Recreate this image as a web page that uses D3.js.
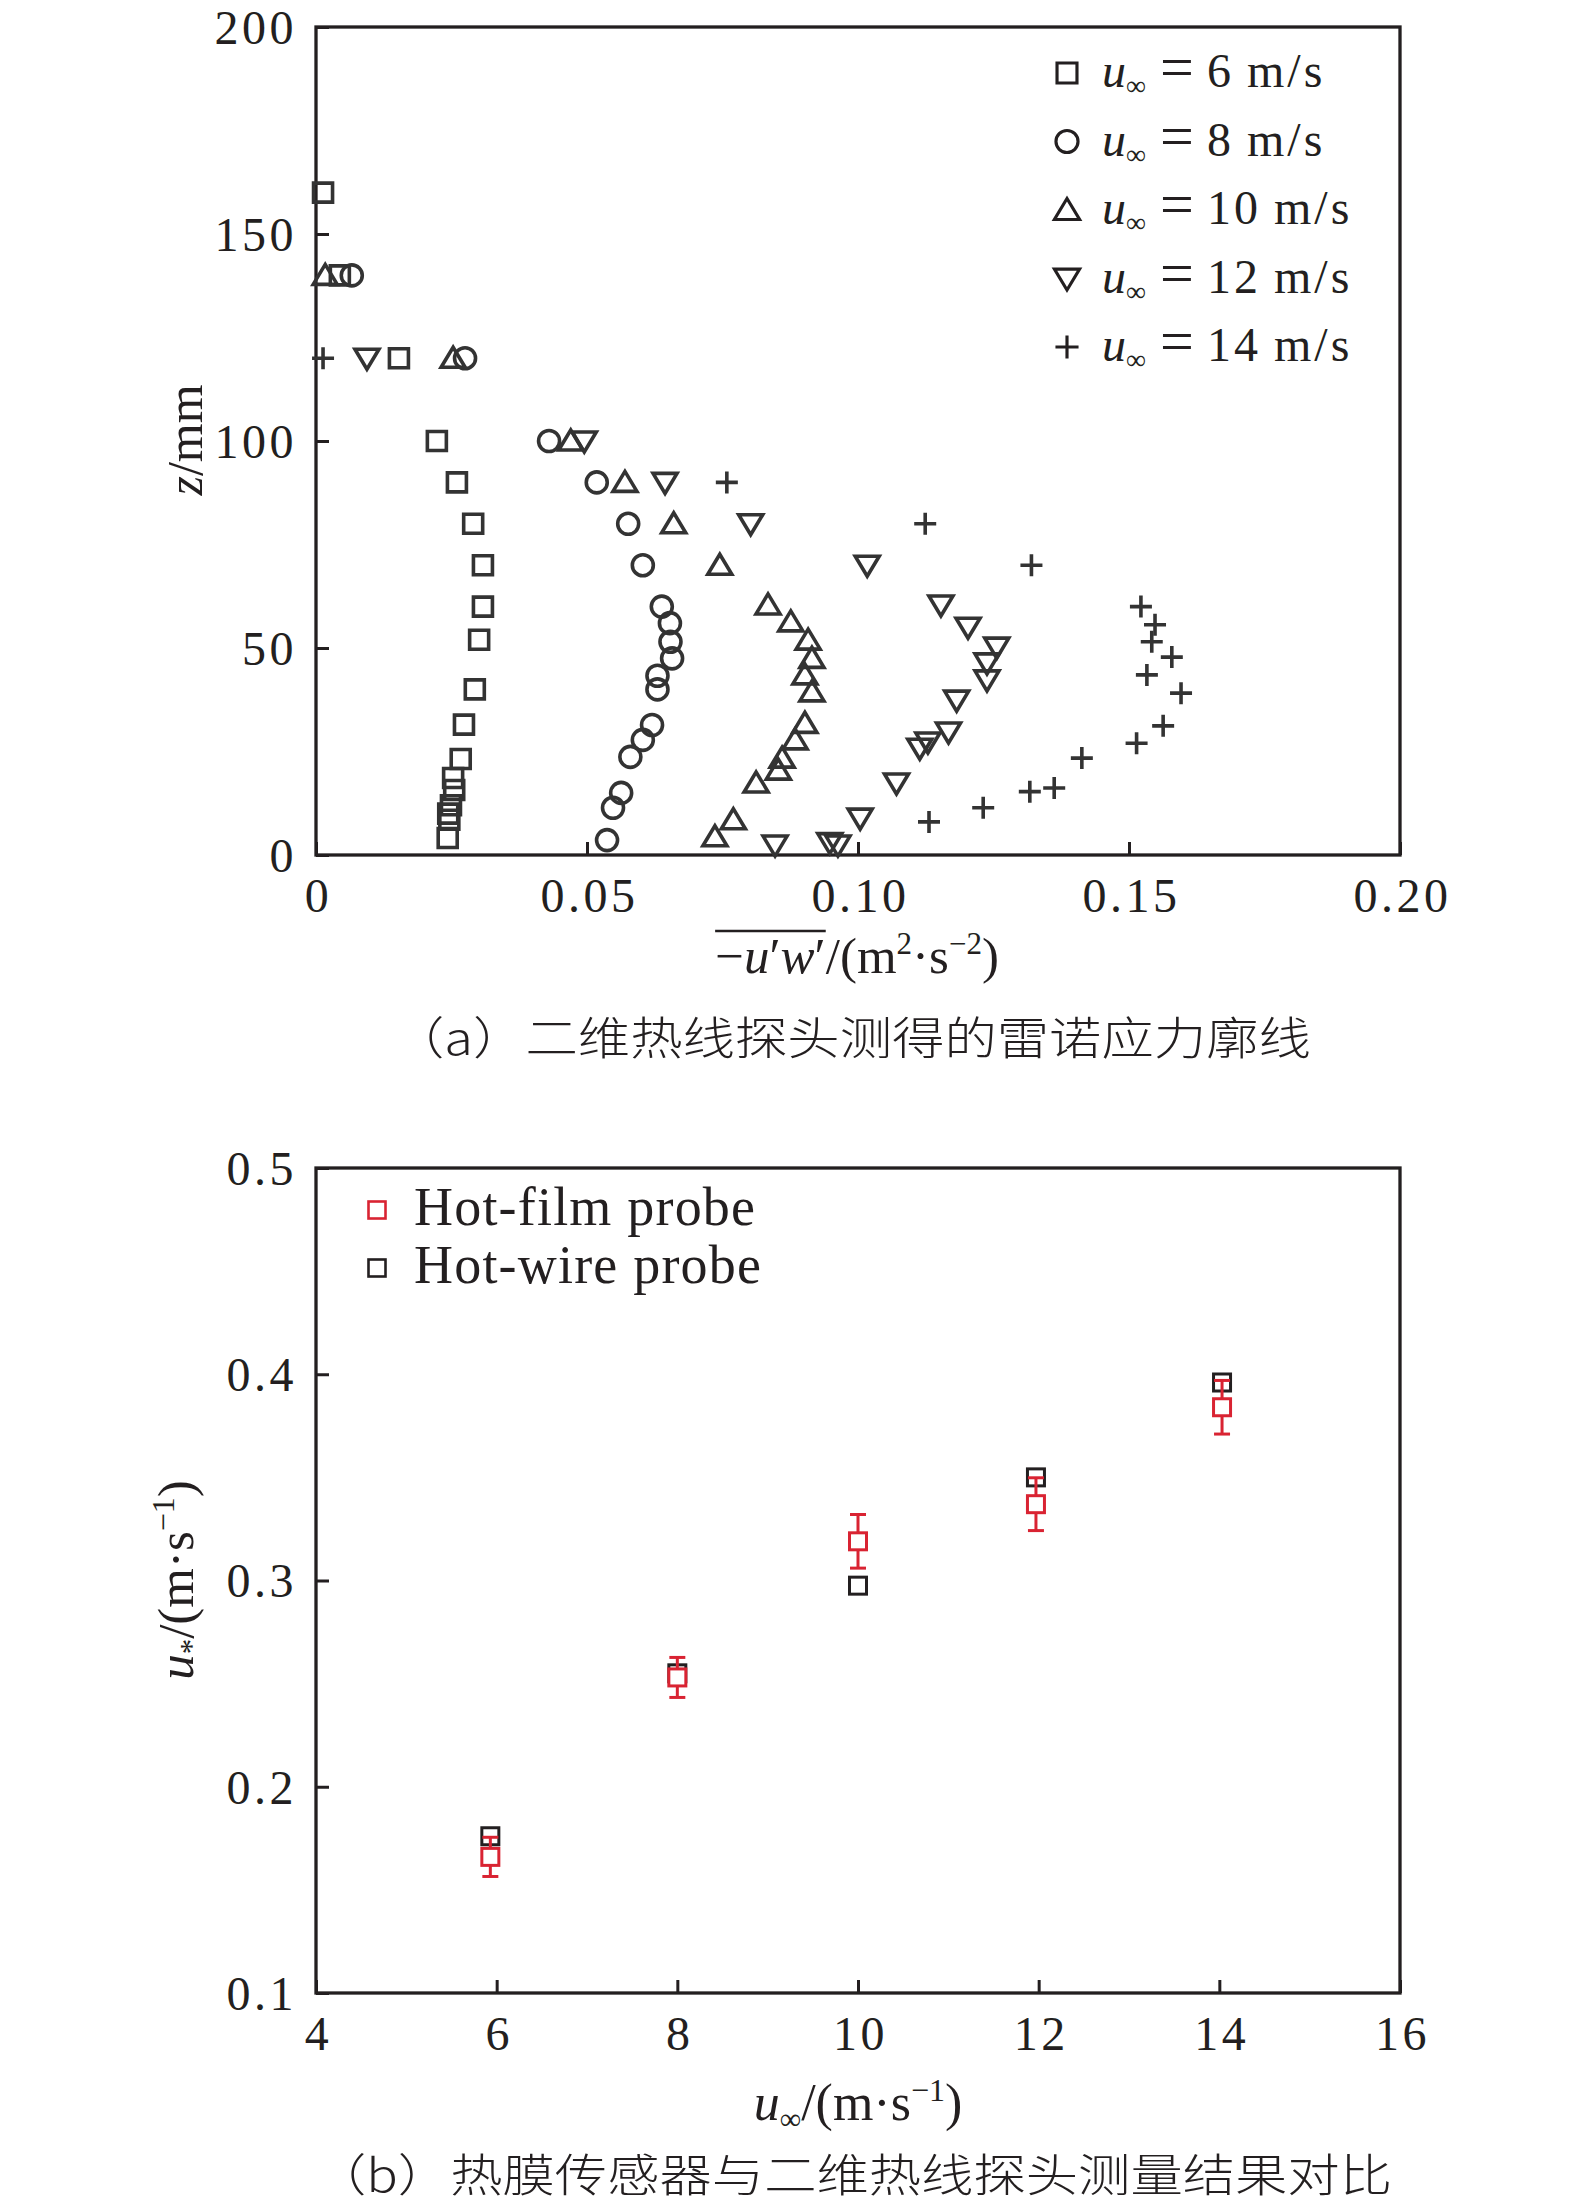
<!DOCTYPE html>
<html>
<head>
<meta charset="utf-8">
<script src="https://cdn.jsdelivr.net/npm/d3@7"></script>
<style>
    body { margin: 0; background: #fff; }
    svg text { font-family: "Liberation Serif", "Times New Roman", serif; fill: #231f20; }
    svg text.cjk { font-family: "Noto Sans CJK SC", sans-serif; font-weight: 300; }
</style>
</head>
<body>
<svg id="chart" width="1575" height="2207"></svg>
<script>
// (a) Reynolds stress profiles: [ -u'w' (m2/s2), z (mm) ]
const u6 = [[0.0013, 160], [0.0044, 140], [0.0153, 120], [0.0223, 100], [0.026, 90], [0.029, 80],
    [0.0308, 70], [0.0308, 60], [0.0301, 52], [0.0293, 40], [0.0273, 31.5], [0.0267, 23.2],
    [0.0253, 18.6], [0.0255, 15.7], [0.0249, 12], [0.0244, 10], [0.0246, 8.5], [0.0243, 4.1]];
const u8 = [[0.0066, 140], [0.0275, 120], [0.043, 100], [0.0518, 90], [0.0576, 80], [0.0603, 70],
    [0.0638, 60], [0.0653, 56], [0.0654, 51.5], [0.0657, 47.5], [0.063, 43.3], [0.063, 40],
    [0.062, 31.4], [0.0603, 27.8], [0.058, 23.7], [0.0563, 15], [0.0548, 11.4], [0.0537, 3.6]];
const u10 = [[0.0017, 140], [0.0253, 120], [0.047, 100], [0.057, 90], [0.066, 80], [0.0745, 70],
    [0.0834, 60.4], [0.0876, 56.3], [0.0908, 51.9], [0.0915, 47.5], [0.0902, 43.5], [0.0915, 39.4],
    [0.0902, 31.8], [0.0884, 27.8], [0.086, 23.4], [0.0853, 20.5], [0.0812, 17.4], [0.077, 8.5], [0.0736, 4.4]];
const u12 = [[0.0094, 120], [0.0495, 100], [0.0644, 90], [0.0802, 80], [0.1017, 70], [0.1153, 60.4],
    [0.1203, 55], [0.1256, 50.2], [0.1238, 46.4], [0.1238, 42.3], [0.1182, 37.4], [0.1167, 29.7],
    [0.1129, 27.3], [0.1114, 25.8], [0.1071, 17.4], [0.1004, 8.9], [0.0847, 2.4], [0.0948, 3], [0.0963, 2.4]];
const u14 = [[0.0013, 120], [0.0758, 90], [0.1124, 80], [0.132, 70], [0.1522, 60], [0.1548, 55.6],
    [0.1542, 51.5], [0.1579, 47.8], [0.1533, 43.5], [0.1596, 39.1], [0.1563, 31.2], [0.1514, 27],
    [0.1413, 23.4], [0.1362, 16.2], [0.1317, 15.3], [0.1231, 11.4], [0.1131, 8]];
const speedLabels = ['6', '8', '10', '12', '14'];
const profileSymbols = ['square', 'circle', 'triUp', 'triDown', 'plus'];
const profiles = [u6, u8, u10, u12, u14];

// (b) friction velocity vs free-stream speed
const speeds = [5.93, 8.0, 10.0, 11.97, 14.03];
const filmUstar = [0.166, 0.253, 0.319, 0.337, 0.384];
const filmErr = [0.0095, 0.0097, 0.013, 0.0128, 0.013];
const wireUstar = [0.176, 0.255, 0.2975, 0.350, 0.396];

const xTicksA = [0, 0.05, 0.10, 0.15, 0.20];
const yTicksA = [0, 50, 100, 150, 200];
const xTicksB = [4, 6, 8, 10, 12, 14, 16];
const yTicksB = [0.1, 0.2, 0.3, 0.4, 0.5];

const INK = '#231f20';
const RED = '#d92332';

const svg = d3.select('#chart');

function marker(type) {
    switch (type) {
        case 'square': return 'M-9.5,-9.5H9.5V9.5H-9.5Z';
        case 'circle': return 'M10.5,0A10.5,10.5 0 1,1 -10.5,0A10.5,10.5 0 1,1 10.5,0Z';
        case 'triUp': return 'M-12,9L12,9L0,-11Z';
        case 'triDown': return 'M-12,-9L12,-9L0,11Z';
        case 'plus': return 'M-11,0H11M0,-11V11';
    }
}

function frame(x, y, xTicks, yTicks, xFmt, yFmt) {
    const g = svg.append('g');
    const [x0, x1] = x.range();
    const [y0, y1] = y.range();

    const xa = g.append('g')
        .attr('transform', `translate(0,${y0})`)
        .call(d3.axisBottom(x).tickValues(xTicks).tickFormat(xFmt).tickSizeInner(-13).tickSizeOuter(0));
    const ya = g.append('g')
        .attr('transform', `translate(${x0},0)`)
        .call(d3.axisLeft(y).tickValues(yTicks).tickFormat(yFmt).tickSizeInner(-13).tickSizeOuter(0));

    [xa, ya].forEach(a => {
        a.select('.domain').remove();
        a.selectAll('line').attr('stroke', INK).attr('stroke-width', 3);
        a.selectAll('text').attr('font-size', 48).attr('letter-spacing', 3.5);
    });
    xa.selectAll('text').attr('y', 57).attr('dy', null).attr('dx', 2);
    ya.selectAll('text').attr('x', -19).attr('dy', '0.34em');

    g.append('rect')
        .attr('x', x0).attr('y', y1)
        .attr('width', x1 - x0).attr('height', y0 - y1)
        .attr('fill', 'none').attr('stroke', INK).attr('stroke-width', 3.3);
}

// ---------- (a) ----------
const xA = d3.scaleLinear().domain([0, 0.2]).range([316, 1400]);
const yA = d3.scaleLinear().domain([0, 200]).range([855, 27]);

frame(xA, yA, xTicksA, yTicksA, d => d === 0 ? '0' : d3.format('.2f')(d), d3.format('d'));

const plotA = svg.append('g');
profiles.forEach((data, i) => {
    plotA.selectAll(null)
        .data(data)
        .enter()
        .append('path')
        .attr('d', marker(profileSymbols[i]))
        .attr('transform', d => `translate(${xA(d[0])},${yA(d[1])})`)
        .attr('fill', 'none')
        .attr('stroke', '#333')
        .attr('stroke-width', 3.6);
});

// legend (a)
const legA = svg.append('g');
speedLabels.forEach((s, i) => {
    const cy = 73 + i * 68.5;
    legA.append('path')
        .attr('d', marker(profileSymbols[i]))
        .attr('transform', `translate(1067,${cy}) scale(1.05)`)
        .attr('fill', 'none').attr('stroke', INK).attr('stroke-width', 3);
    const t = legA.append('text').attr('y', cy + 14).attr('font-size', 48);
    t.append('tspan').attr('x', 1102).attr('font-style', 'italic').text('u');
    t.append('tspan').attr('x', 1126).attr('font-size', 28).attr('dy', 8).text('∞');
    t.append('tspan').attr('x', 1160).attr('dy', -8).attr('font-size', 60).text('=');
    t.append('tspan').attr('x', 1207).attr('letter-spacing', 3).attr('word-spacing', -2).text(`${s} m/s`);
});

// axis titles (a)
const xtA = svg.append('text').attr('x', 857).attr('y', 973).attr('text-anchor', 'middle').attr('font-size', 51);
xtA.append('tspan').text('−');
xtA.append('tspan').attr('font-style', 'italic').text('u');
xtA.append('tspan').text('′');
xtA.append('tspan').attr('font-style', 'italic').text('w');
xtA.append('tspan').text('′');
xtA.append('tspan').text('/(m');
xtA.append('tspan').attr('font-size', 31).attr('dy', -19).text('2');
xtA.append('tspan').attr('dy', 19).text('·s');
xtA.append('tspan').attr('font-size', 31).attr('dy', -19).text('−2');
xtA.append('tspan').attr('dy', 19).text(')');
const olStart = xtA.node().getStartPositionOfChar(0).x;
const olEnd = xtA.node().getEndPositionOfChar(4).x;
svg.append('line').attr('x1', olStart).attr('x2', olEnd).attr('y1', 931).attr('y2', 931)
    .attr('stroke', INK).attr('stroke-width', 2.5);

const ytA = svg.append('text').attr('transform', 'translate(202,440) rotate(-90)')
    .attr('text-anchor', 'middle').attr('font-size', 50);
ytA.append('tspan').attr('font-style', 'italic').text('z');
ytA.append('tspan').text('/mm');

svg.append('text').attr('class', 'cjk')
    .attr('x', 392).attr('y', 1055).attr('font-size', 45)
    .attr('textLength', 919).attr('lengthAdjust', 'spacingAndGlyphs')
    .text('（a）二维热线探头测得的雷诺应力廓线');

// ---------- (b) ----------
const xB = d3.scaleLinear().domain([4, 16]).range([316, 1400]);
const yB = d3.scaleLinear().domain([0.1, 0.5]).range([1993, 1168]);

frame(xB, yB, xTicksB, yTicksB, d3.format('d'), d3.format('.1f'));

const plotB = svg.append('g');
plotB.selectAll('.wire')
    .data(speeds)
    .enter()
    .append('rect')
    .attr('class', 'wire')
    .attr('x', (d, i) => xB(d) - 8.5)
    .attr('y', (d, i) => yB(wireUstar[i]) - 8.5)
    .attr('width', 17).attr('height', 17)
    .attr('fill', '#fff').attr('stroke', INK).attr('stroke-width', 3);

const err = plotB.selectAll('.err')
    .data(speeds)
    .enter()
    .append('g')
    .attr('class', 'err')
    .attr('stroke', RED).attr('stroke-width', 3);
err.append('line')
    .attr('x1', d => xB(d)).attr('x2', d => xB(d))
    .attr('y1', (d, i) => yB(filmUstar[i] + filmErr[i]))
    .attr('y2', (d, i) => yB(filmUstar[i] - filmErr[i]));
[1, -1].forEach(sg => {
    err.append('line')
        .attr('x1', d => xB(d) - 8).attr('x2', d => xB(d) + 8)
        .attr('y1', (d, i) => yB(filmUstar[i] + sg * filmErr[i]))
        .attr('y2', (d, i) => yB(filmUstar[i] + sg * filmErr[i]));
});

plotB.selectAll('.film')
    .data(speeds)
    .enter()
    .append('rect')
    .attr('class', 'film')
    .attr('x', (d, i) => xB(d) - 8.5)
    .attr('y', (d, i) => yB(filmUstar[i]) - 8.5)
    .attr('width', 17).attr('height', 17)
    .attr('fill', '#fff').attr('stroke', RED).attr('stroke-width', 3);

// legend (b)
const legB = svg.append('g');
[['Hot-film probe', RED], ['Hot-wire probe', INK]].forEach(([label, col], i) => {
    const cy = 1210 + i * 58;
    legB.append('rect').attr('x', 368.5).attr('y', cy - 8.5).attr('width', 17).attr('height', 17)
        .attr('fill', 'none').attr('stroke', col).attr('stroke-width', 2.6);
    legB.append('text').attr('x', 414).attr('y', cy + 15).attr('font-size', 54)
        .attr('letter-spacing', 1.2).text(label);
});

const xtB = svg.append('text').attr('x', 858).attr('y', 2120).attr('text-anchor', 'middle').attr('font-size', 52);
xtB.append('tspan').attr('font-style', 'italic').text('u');
xtB.append('tspan').attr('font-size', 30).attr('dy', 9).text('∞');
xtB.append('tspan').attr('dy', -9).text('/(m·s');
xtB.append('tspan').attr('font-size', 32).attr('dy', -19).text('−1');
xtB.append('tspan').attr('dy', 19).text(')');

const ytB = svg.append('text').attr('transform', 'translate(193,1580) rotate(-90)')
    .attr('text-anchor', 'middle').attr('font-size', 51);
ytB.append('tspan').attr('font-style', 'italic').text('u');
ytB.append('tspan').attr('font-size', 31).attr('dy', 9).text('*');
ytB.append('tspan').attr('dy', -9).text('/(m·s');
ytB.append('tspan').attr('font-size', 32).attr('dy', -19).text('−1');
ytB.append('tspan').attr('dy', 19).text(')');

svg.append('text').attr('class', 'cjk')
    .attr('x', 314).attr('y', 2192).attr('font-size', 45)
    .attr('textLength', 1078).attr('lengthAdjust', 'spacingAndGlyphs')
    .text('（b）热膜传感器与二维热线探头测量结果对比');
</script>
</body>
</html>
